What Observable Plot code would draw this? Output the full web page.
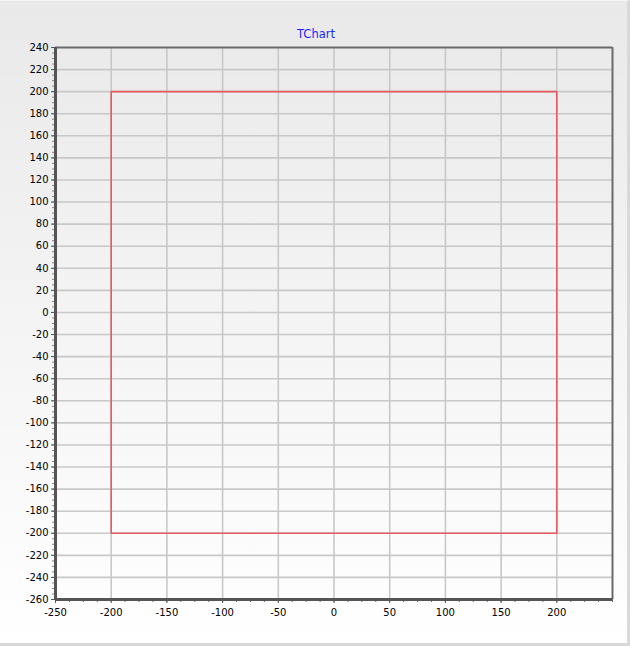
<!DOCTYPE html>
<html><head><meta charset="utf-8">
<script src="https://cdn.jsdelivr.net/npm/d3@7"></script>
<script src="https://cdn.jsdelivr.net/npm/@observablehq/plot@0.6"></script>
<style>
html,body{margin:0;padding:0;background:#fff;}
#panel{position:relative;width:630px;height:646px;overflow:hidden;box-sizing:border-box;
  background:linear-gradient(to bottom,#e9e9e9 0%,#ffffff 100%);
  border-right:3px solid #d9d9d9;border-bottom:3px solid #d9d9d9;border-top:1px solid #f4f4f4;}
#title{position:absolute;left:0;width:632px;top:26px;text-align:center;font:11.5px "DejaVu Sans",sans-serif;color:#1f1fff;}
#chart{position:absolute;left:0;top:-1px;width:630px;height:646px;}
#chart svg{background:transparent !important;max-width:none !important;}
</style></head>
<body>
<div id="panel"><div id="title">TChart</div><div id="chart"></div></div>
<script>
const xTicks = [-250, -200, -150, -100, -50, 0, 50, 100, 150, 200];
const yTicks = [240, 220, 200, 180, 160, 140, 120, 100, 80, 60, 40, 20, 0, -20, -40, -60, -80, -100, -120, -140, -160, -180, -200, -220, -240, -260];
const squareX = [-200, -200, 200, 200, -200];
const squareY = [-200, 200, 200, -200, -200];

const xDomain = [-250, 250];
const yDomain = [-260, 240];
const square = squareX.map((x, i) => ({x, y: squareY[i]}));
const xMinor = d3.range(xDomain[0], xDomain[1] + 0.01, 12.5);
const yMinor = d3.range(yDomain[0], yDomain[1] + 0.01, 5);

const chart = Plot.plot({
  width: 630, height: 646,
  marginLeft: 55, marginRight: 18, marginTop: 47, marginBottom: 47,
  x: {domain: xDomain, label: null},
  y: {domain: yDomain, label: null},
  style: {background: "transparent", fontFamily: "DejaVu Sans, sans-serif", fontSize: "10px", color: "#000", maxWidth: "none"},
  marks: [
    Plot.gridX(xTicks.filter(d => d > xDomain[0]), {stroke: "#c8c8c8", strokeOpacity: 1, strokeWidth: 1.6}),
    Plot.gridY(yTicks.filter(d => d > yDomain[0] && d < yDomain[1]), {stroke: "#c8c8c8", strokeOpacity: 1, strokeWidth: 1.6}),
    Plot.line(square, {x: "x", y: "y", stroke: "#e65a62", strokeWidth: 1.6}),
    Plot.ruleY([yDomain[1]], {stroke: "#6a6a6a", strokeWidth: 2}),
    Plot.ruleX([xDomain[1]], {stroke: "#6a6a6a", strokeWidth: 2}),
    Plot.axisX(xMinor, {tickSize: 3, text: null, label: null, stroke: "#666", strokeWidth: 1}),
    Plot.axisY(yMinor, {tickSize: 3, text: null, label: null, stroke: "#888", strokeWidth: 1}),
    Plot.axisX(xTicks, {tickSize: 4, tickPadding: 5, stroke: "#555", fill: "#000", label: null, tickFormat: d => String(d)}),
    Plot.axisY(yTicks, {tickSize: 4, tickPadding: 3, stroke: "#555", fill: "#000", label: null, tickFormat: d => String(d)}),
    Plot.ruleX([xDomain[0]], {stroke: "#555", strokeWidth: 3}),
    Plot.ruleY([yDomain[0]], {stroke: "#555", strokeWidth: 3})
  ]
});
document.getElementById("chart").appendChild(chart);
</script>
</body></html>
